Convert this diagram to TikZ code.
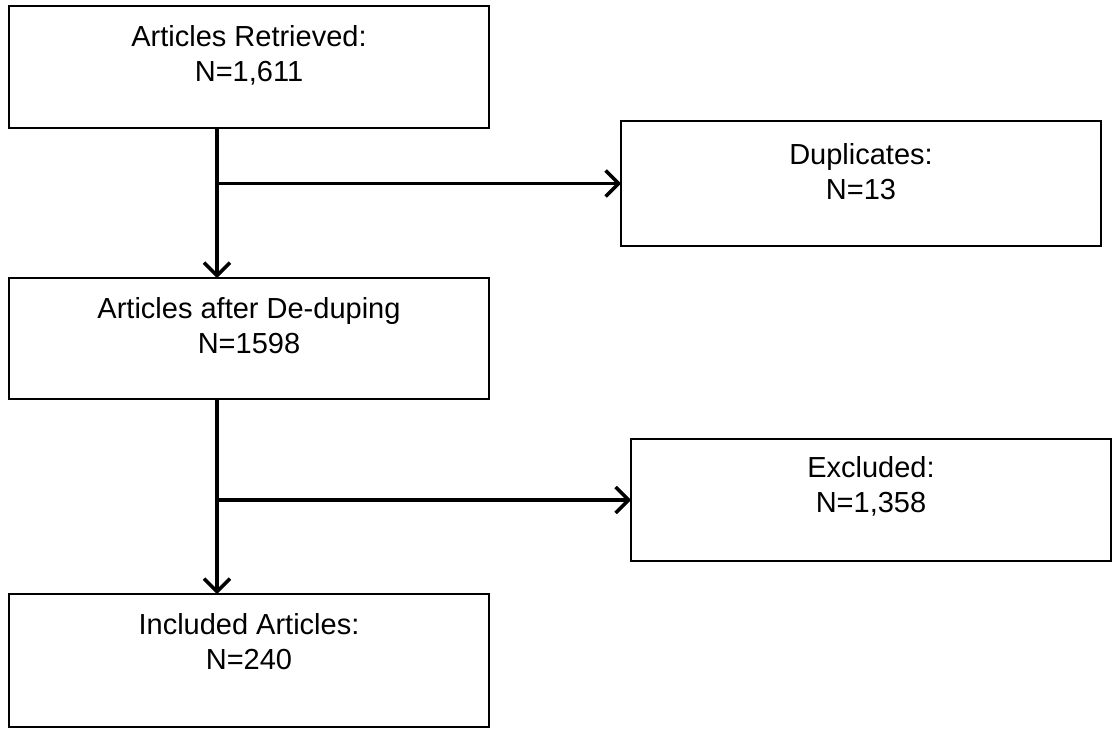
\documentclass[tikz,border=0pt]{standalone}
\usepackage{fontspec}
\setmainfont{Liberation Sans}
\usetikzlibrary{arrows.meta}
\begin{document}
\begin{tikzpicture}[x=1pt,y=-1pt,
  box/.style={draw=black, line width=1.6pt, minimum width=480pt, inner sep=0pt, outer sep=0pt, rectangle},
  lbl/.style={anchor=north, align=center, inner sep=0pt, font=\fontsize{29}{35}\selectfont},
  arr/.style={line width=3.5pt, -{Straight Barb[length=13pt,width=26pt,line width=3.5pt]}}]
\useasboundingbox (0,0) rectangle (1113,731);
% boxes
\node[box, minimum height=122pt] (b1) at (249,67) {};
\node[box, minimum height=121pt] (b2) at (249,338.5) {};
\node[box, minimum height=133pt] (b3) at (249,660.5) {};
\node[box, minimum height=125pt] (dup) at (861,183.5) {};
\node[box, minimum height=122pt] (exc) at (871,500) {};
% texts
\node[lbl] (t1) at ([yshift=-19.5pt]b1.north) {Articles Retrieved:\\N=1,611};
\node[lbl] (t2) at ([yshift=-19.5pt]b2.north) {Articles after De-duping\\N=1598};
\node[lbl] (t3) at ([yshift=-19.5pt]b3.north) {Included Articles:\\N=240};
\node[lbl] (t4) at ([yshift=-22pt]dup.north) {Duplicates:\\N=13};
\node[lbl] (t5) at ([yshift=-17pt]exc.north) {Excluded:\\N=1,358};
% connectors
\coordinate (j1) at (217,183.5);
\coordinate (j2) at (217,500);
\draw[arr] (b1.south -| j1) -- (b2.north -| j1);
\draw[arr] (j1) -- (dup.west);
\draw[arr] (b2.south -| j2) -- (b3.north -| j2);
\draw[arr] (j2) -- (exc.west);
\end{tikzpicture}
\end{document}
